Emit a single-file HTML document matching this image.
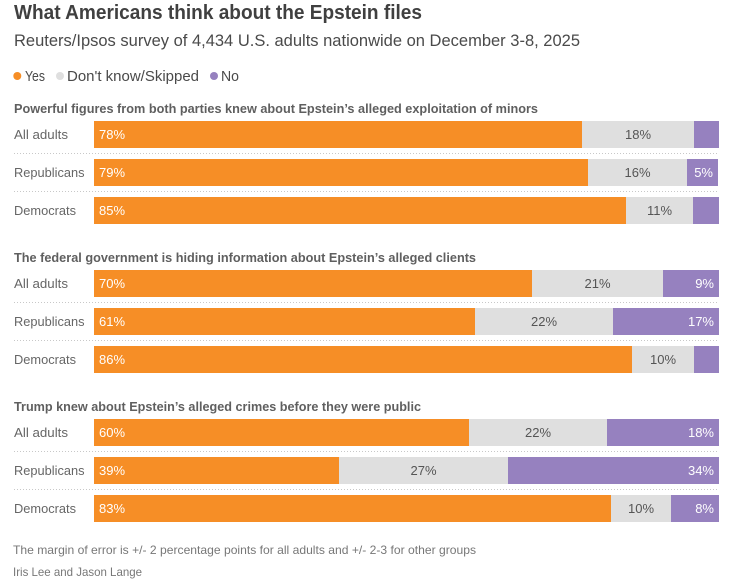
<!DOCTYPE html>
<html lang="en">
<head>
<meta charset="utf-8">
<title>What Americans think about the Epstein files</title>
<style>
html,body{margin:0;padding:0;background:#fff;}
body{width:734px;height:580px;overflow:hidden;}
svg{display:block;font-family:"Liberation Sans",sans-serif;}
</style>
</head>
<body>
<svg id="chart" xmlns="http://www.w3.org/2000/svg" width="734" height="580" viewBox="0 0 734 580">
  <rect x="0" y="0" width="734" height="580" fill="#ffffff"/>
  <text x="14" y="19" font-size="20" font-weight="700" fill="#404040" textLength="408" lengthAdjust="spacingAndGlyphs">What Americans think about the Epstein files</text>
  <text x="14" y="46" font-size="17" fill="#4a4a4a" textLength="566" lengthAdjust="spacingAndGlyphs">Reuters/Ipsos survey of 4,434 U.S. adults nationwide on December 3-8, 2025</text>

  <g>
    <circle cx="17.3" cy="76" r="4" fill="#f68e26"/>
    <text x="25" y="81" font-size="14.5" fill="#4a4a4a" textLength="20" lengthAdjust="spacingAndGlyphs">Yes</text>
    <circle cx="60" cy="76" r="4" fill="#dfdfdf"/>
    <text x="67" y="81" font-size="14.5" fill="#4a4a4a" textLength="132" lengthAdjust="spacingAndGlyphs">Don't know/Skipped</text>
    <circle cx="214" cy="76" r="4" fill="#9681bf"/>
    <text x="221" y="81" font-size="14.5" fill="#4a4a4a" textLength="18" lengthAdjust="spacingAndGlyphs">No</text>
  </g>

  <g id="plot"></g>

  <text x="13" y="554" font-size="12" fill="#777777" textLength="463" lengthAdjust="spacingAndGlyphs">The margin of error is +/- 2 percentage points for all adults and +/- 2-3 for other groups</text>
  <text x="13" y="576" font-size="12" fill="#777777" textLength="129" lengthAdjust="spacingAndGlyphs">Iris Lee and Jason Lange</text>
</svg>

<script>
const questions = [
  "Powerful figures from both parties knew about Epstein’s alleged exploitation of minors",
  "The federal government is hiding information about Epstein’s alleged clients",
  "Trump knew about Epstein’s alleged crimes before they were public"
];
const groups = ["All adults", "Republicans", "Democrats"];
const yesQ1 = [78.08, 79.04, 85.12];
const unsureQ1 = [17.92, 15.84, 10.72];
const noQ1 = [4.0, 4.96, 4.16];
const yesQ2 = [70.08, 60.96, 86.08];
const unsureQ2 = [20.96, 22.08, 9.92];
const noQ2 = [8.96, 16.96, 4.0];
const yesQ3 = [60.0, 39.2, 82.72];
const unsureQ3 = [22.08, 27.04, 9.6];
const noQ3 = [17.92, 33.76, 7.68];

const yesSeries = [yesQ1, yesQ2, yesQ3];
const unsureSeries = [unsureQ1, unsureQ2, unsureQ3];
const noSeries = [noQ1, noQ2, noQ3];

const SVG_NS = "http://www.w3.org/2000/svg";
const plot = document.getElementById("plot");

function xScale(value) {
  return 94 + value * 6.25;
}
function barTop(questionIndex, groupIndex) {
  return 121 + questionIndex * 149 + groupIndex * 38;
}
function make(tag, parent) {
  const el = document.createElementNS(SVG_NS, tag);
  parent.appendChild(el);
  return el;
}
function percentText(value) {
  return Math.round(value) + "%";
}

questions.forEach(function (question, q) {
  const panel = make("g", plot);
  
  

  const heading = make("text", panel);
  
  
  heading.setAttribute("x", 14);
  heading.setAttribute("y", barTop(q, 0) - 8);
  heading.setAttribute("font-size", 12.5);
  heading.setAttribute("font-weight", 700);
  heading.setAttribute("fill", "#5f5f5f");
  heading.setAttribute("textLength", [524, 462, 407][q]);
  heading.setAttribute("lengthAdjust", "spacingAndGlyphs");
  heading.textContent = question;

  groups.forEach(function (group, g) {
    const top = barTop(q, g);
    const yes = yesSeries[q][g];
    const unsure = unsureSeries[q][g];
    const no = noSeries[q][g];

    const label = make("text", panel);
    
    
    label.setAttribute("x", 14);
    label.setAttribute("y", top + 18);
    label.setAttribute("font-size", 13);
    label.setAttribute("fill", "#666666");
    label.setAttribute("textLength", [54, 70.5, 62][g]);
    label.setAttribute("lengthAdjust", "spacingAndGlyphs");
    label.textContent = group;

    const yesBar = make("rect", panel);
    
    
    yesBar.setAttribute("x", xScale(0));
    yesBar.setAttribute("y", top);
    yesBar.setAttribute("width", xScale(yes) - xScale(0));
    yesBar.setAttribute("height", 27);
    yesBar.setAttribute("fill", "#f68e26");

    const unsureBar = make("rect", panel);
    
    
    unsureBar.setAttribute("x", xScale(yes));
    unsureBar.setAttribute("y", top);
    unsureBar.setAttribute("width", xScale(yes + unsure) - xScale(yes));
    unsureBar.setAttribute("height", 27);
    unsureBar.setAttribute("fill", "#dfdfdf");

    const noBar = make("rect", panel);
    
    
    noBar.setAttribute("x", xScale(yes + unsure));
    noBar.setAttribute("y", top);
    noBar.setAttribute("width", xScale(yes + unsure + no) - xScale(yes + unsure));
    noBar.setAttribute("height", 27);
    noBar.setAttribute("fill", "#9681bf");

    const yesValue = make("text", panel);
    
    
    yesValue.setAttribute("x", xScale(0) + 5);
    yesValue.setAttribute("y", top + 18);
    yesValue.setAttribute("font-size", 13);
    yesValue.setAttribute("fill", "#ffffff");
    yesValue.textContent = percentText(yes);

    const unsureValue = make("text", panel);
    
    
    unsureValue.setAttribute("x", xScale(yes + unsure / 2));
    unsureValue.setAttribute("y", top + 18);
    unsureValue.setAttribute("font-size", 13);
    unsureValue.setAttribute("text-anchor", "middle");
    unsureValue.setAttribute("fill", "#555555");
    unsureValue.textContent = percentText(unsure);

    if (no >= 4.5) {
      const noValue = make("text", panel);
      
      
      noValue.setAttribute("x", xScale(yes + unsure + no) - 5);
      noValue.setAttribute("y", top + 18);
      noValue.setAttribute("font-size", 13);
      noValue.setAttribute("text-anchor", "end");
      noValue.setAttribute("fill", "#ffffff");
      noValue.textContent = percentText(no);
    }

    if (g < groups.length - 1) {
      const divider = make("line", panel);
      
      
      divider.setAttribute("x1", 14);
      divider.setAttribute("x2", 719);
      divider.setAttribute("y1", top + 32.5);
      divider.setAttribute("y2", top + 32.5);
      divider.setAttribute("stroke", "#c8c8c8");
      divider.setAttribute("stroke-width", 1);
      divider.setAttribute("stroke-dasharray", "1 2");
    }
  });
});
</script>
</body>
</html>
